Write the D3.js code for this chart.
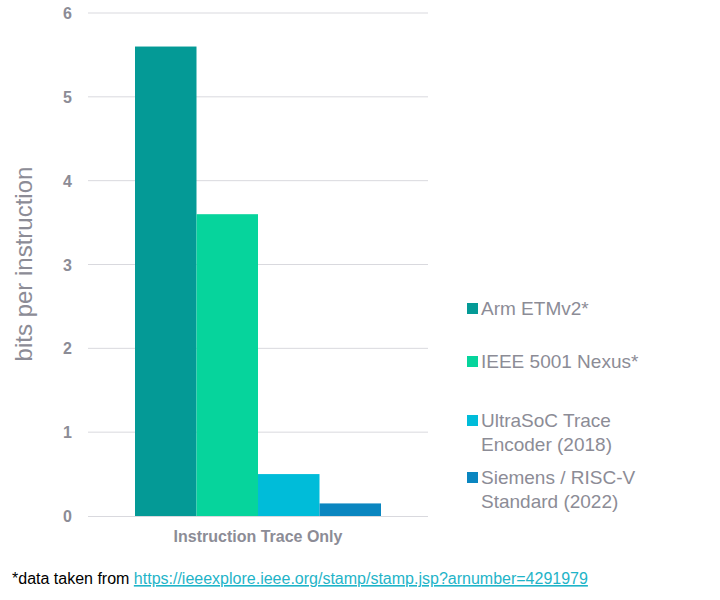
<!DOCTYPE html>
<html><head><meta charset="utf-8">
<script src="https://cdn.jsdelivr.net/npm/d3@7"></script>
<style>body{margin:0;background:#fff;font-family:Arial,"Liberation Sans",sans-serif}</style>
</head><body><svg id="c" width="720" height="600"></svg>
<script>
const category = ["Instruction Trace Only"];
const seriesNames = ["Arm ETMv2*","IEEE 5001 Nexus*","UltraSoC Trace Encoder (2018)","Siemens / RISC-V Standard (2022)"];
const legendLines = [["Arm ETMv2*"],["IEEE 5001 Nexus*"],["UltraSoC Trace","Encoder (2018)"],["Siemens / RISC-V","Standard (2022)"]];
const values = [5.6, 3.6, 0.5, 0.15];
const colors = ["#049a96","#06d49c","#00bcd9","#0a86c0"];
const yTicks = [0,1,2,3,4,5,6];

const svg = d3.select("#c");
const grey = "#8c8c96";
const x0 = d3.scaleBand().domain(category).range([88,428]);
const y = d3.scaleLinear().domain([0,6]).range([516,13]);
const xs = d3.scaleBand().domain(seriesNames).range([135,381]);

svg.append("g").selectAll("line").data(yTicks.filter(d=>d>0)).join("line")
  .attr("x1",88).attr("x2",428).attr("y1",d=>y(d)).attr("y2",d=>y(d))
  .attr("stroke","#d9d9de").attr("stroke-width",1);
svg.append("g").selectAll("text").data(yTicks).join("text")
  .attr("x",72).attr("y",d=>y(d)+6).attr("text-anchor","end")
  .attr("fill",grey).attr("font-size",16).attr("font-weight","bold").text(d=>d);

svg.append("g").selectAll("rect").data(values).join("rect")
  .attr("x",(d,i)=>xs(seriesNames[i])).attr("width",xs.bandwidth())
  .attr("y",d=>y(d)).attr("height",d=>y(0)-y(d)).attr("fill",(d,i)=>colors[i]);

svg.append("line").attr("x1",88).attr("x2",428).attr("y1",516.5).attr("y2",516.5).attr("stroke","#d9d9de");
svg.append("text").attr("x",x0(category[0])+x0.bandwidth()/2).attr("y",542).attr("text-anchor","middle")
  .attr("fill",grey).attr("font-size",16).attr("font-weight","bold").text(category[0]);

svg.append("text").attr("transform","translate(32,264) rotate(-90)").attr("text-anchor","middle")
  .attr("fill",grey).attr("font-size",24).text("bits per instruction");

const legY = [315,368,427,484];
const lg = svg.append("g").selectAll("g").data(legendLines).join("g");
lg.append("rect").attr("x",467).attr("y",(d,i)=>legY[i]-12).attr("width",11).attr("height",11).attr("fill",(d,i)=>colors[i]);
lg.each(function(lines,i){
  d3.select(this).selectAll("text").data(lines).join("text")
    .attr("x",481).attr("y",(d,j)=>legY[i]+j*24).attr("fill",grey).attr("font-size",19).text(d=>d);
});

const foot = svg.append("text").attr("x",12).attr("y",584).attr("font-size",16).attr("fill","#000");
foot.append("tspan").text("*data taken from ");
foot.append("tspan").attr("fill","#1fb4c8").attr("text-decoration","underline").text("https://ieeexplore.ieee.org/stamp/stamp.jsp?arnumber=4291979");
</script></body></html>
